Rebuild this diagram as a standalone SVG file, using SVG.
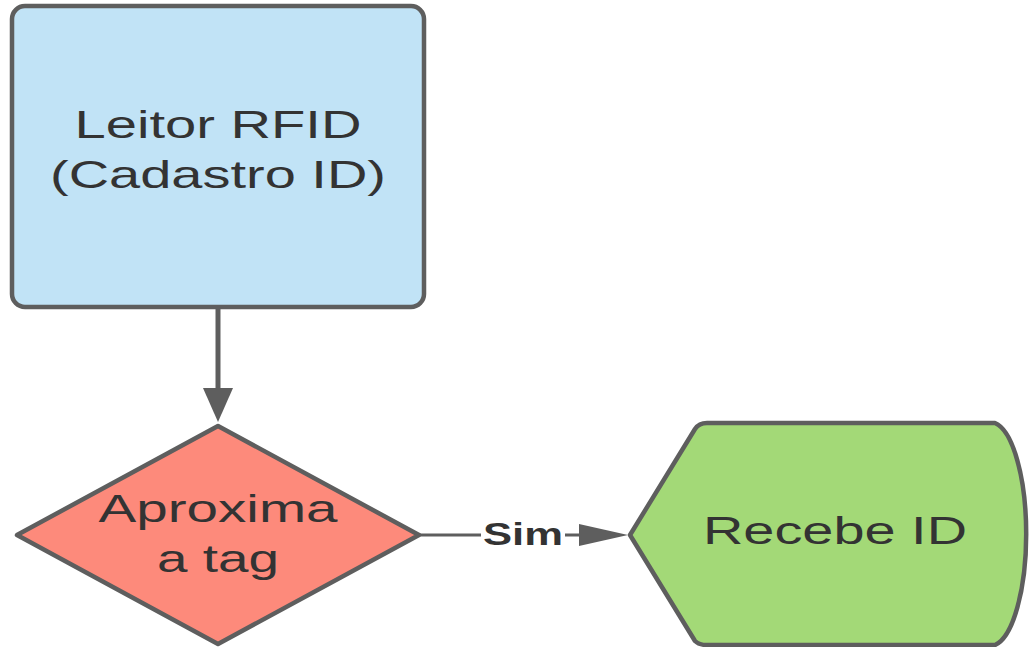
<svg xmlns="http://www.w3.org/2000/svg" width="1031" height="647" viewBox="0 0 1031 647">
  <style>
    .shape { stroke: #5e5e5e; stroke-width: 4.5; stroke-linejoin: round; }
    .label { font-family: "Liberation Sans", Arial, sans-serif; font-size: 39px; fill: #333333; text-anchor: middle; }
    .edge { stroke: #5e5e5e; stroke-width: 4; fill: none; }
    .head { fill: #5e5e5e; }
    .edge-label { font-family: "Liberation Sans", Arial, sans-serif; font-size: 31px; font-weight: bold; fill: #333333; text-anchor: middle; }
  </style>
  <rect width="1031" height="647" fill="#ffffff"/>

  <!-- connectors -->
  <g id="connectors">
    <g id="edge-leitor-aproxima">
      <line class="edge" x1="218" y1="308" x2="218" y2="392" style="stroke-width:5"/>
      <polygon class="head" points="203,388 233,388 218,422"/>
    </g>
    <g id="edge-aproxima-recebe">
      <line class="edge" x1="419" y1="535" x2="585" y2="535" style="stroke-width:3"/>
      <polygon class="head" points="579,524 579,546 628,535"/>
      <rect x="481" y="515" width="84" height="38" fill="#ffffff"/>
      <text class="edge-label" x="523" y="545" textLength="80" lengthAdjust="spacingAndGlyphs">Sim</text>
    </g>
  </g>

  <!-- Leitor RFID -->
  <g id="node-leitor">
    <rect class="shape" x="12" y="6" width="412" height="301" rx="13" fill="#c1e3f6"/>
    <text class="label" x="218" y="138" textLength="287" lengthAdjust="spacingAndGlyphs">Leitor RFID</text>
    <text class="label" x="218" y="188" textLength="336" lengthAdjust="spacingAndGlyphs">(Cadastro ID)</text>
  </g>

  <!-- Aproxima a tag -->
  <g id="node-aproxima">
    <polygon class="shape" points="218,426 419,535 218,644 17,535" fill="#fd8a7b"/>
    <text class="label" x="218" y="522" textLength="239" lengthAdjust="spacingAndGlyphs">Aproxima</text>
    <text class="label" x="218" y="572" textLength="122" lengthAdjust="spacingAndGlyphs">a tag</text>
  </g>

  <!-- Recebe ID -->
  <g id="node-recebe">
    <path class="shape" fill="#a3d977" d="M 630 535 L 695 429 Q 699 423 707 423 L 995 423 A 36 112 0 0 1 995 645 L 707 645 Q 699 645 695 641 Z"/>
    <text class="label" x="835" y="544" textLength="264" lengthAdjust="spacingAndGlyphs">Recebe ID</text>
  </g>
</svg>
